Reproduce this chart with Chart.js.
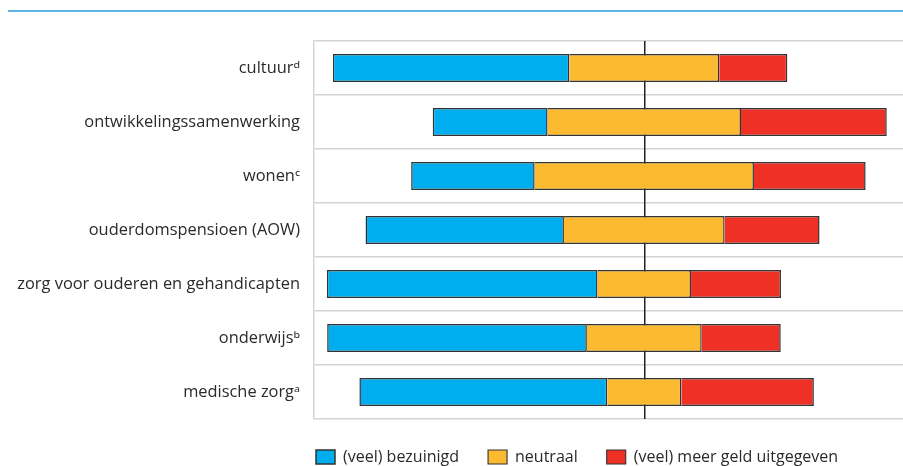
<!DOCTYPE html>
<html>
<head>
<meta charset="utf-8">
<script src="https://cdn.jsdelivr.net/npm/chart.js"></script>
<style>
html,body{margin:0;padding:0;background:#fff;overflow:hidden;}
#wrap{position:relative;width:903px;height:475px;}
#topline{position:absolute;left:8px;top:10px;width:895px;height:2px;background:#5db6e6;}
canvas{position:absolute;left:0;top:0;}
</style>
</head>
<body>
<div id="wrap"><div id="topline"></div><canvas id="c" width="903" height="475"></canvas></div>
<script>
const categories = [
  'cultuur\u1D48',
  'ontwikkelingssamenwerking',
  'wonen\u1D9C',
  'ouderdomspensioen (AOW)',
  'zorg voor ouderen en gehandicapten',
  'onderwijs\u1D47',
  'medische zorg\u1D43'
];
const seriesNames = ['(veel) bezuinigd', 'neutraal', '(veel) meer geld uitgegeven'];
const bezuinigd = [52.1, 25.3, 27.2, 43.7, 59.6, 57.2, 54.6];
const neutraal  = [33.0, 42.6, 48.3, 35.4, 20.6, 25.3, 16.3];
const meerGeld  = [15.0, 32.1, 24.6, 20.9, 19.8, 17.4, 29.2];
const colors = ['#00aeef', '#fbba30', '#ee3124'];
const edge = '#333333';

const blueData = bezuinigd.map((b, i) => [-(neutraal[i] / 2 + b), -neutraal[i] / 2]);
const neutralData = neutraal.map(n => [-n / 2, n / 2]);
const redData = meerGeld.map((r, i) => [neutraal[i] / 2, neutraal[i] / 2 + r]);

Chart.defaults.font.family = "'Open Sans', 'Noto Sans', sans-serif";
Chart.defaults.font.size = 16;
Chart.defaults.color = '#2a2a2a';

const common = {
  grouped: false,
  barPercentage: 0.52,
  categoryPercentage: 1,
  borderColor: edge,
  borderSkipped: false
};

const legendShift = {
  id: 'legendShift',
  afterLayout(chart) {
    if (chart.legend) { chart.legend.left = 287; }
  }
};

new Chart(document.getElementById('c'), {
  type: 'bar',
  data: {
    labels: categories,
    datasets: [
      Object.assign({ label: seriesNames[0], data: blueData, backgroundColor: colors[0],
        borderWidth: { top: 1.5, bottom: 1.5, left: 1.5, right: 1.5 } }, common),
      Object.assign({ label: seriesNames[1], data: neutralData, backgroundColor: colors[1],
        borderWidth: { top: 1.5, bottom: 1.5, left: 0, right: 1.5 } }, common),
      Object.assign({ label: seriesNames[2], data: redData, backgroundColor: colors[2],
        borderWidth: { top: 1.5, bottom: 1.5, left: 0, right: 1.5 } }, common)
    ]
  },
  plugins: [legendShift],
  options: {
    indexAxis: 'y',
    responsive: false,
    animation: false,
    devicePixelRatio: 1,
    layout: { padding: { left: 0, top: 41, right: 0, bottom: 0 } },
    scales: {
      y: {
        type: 'category',
        offset: true,
        grid: { offset: true, color: '#d4d4d4', lineWidth: 1.5, drawTicks: false },
        border: { display: true, color: '#d4d4d4', width: 1.5 },
        ticks: { padding: 14, color: '#2a2a2a', font: { size: 16.4 } },
        afterFit: s => { s.width = 314; }
      },
      x: {
        type: 'linear',
        min: -72.75,
        max: 56.98,
        z: 1,
        ticks: { display: false, stepSize: 10 },
        grid: {
          drawTicks: false,
          lineWidth: 1.5,
          color: c => (c.tick && c.tick.value === 0) ? '#222222' : 'rgba(0,0,0,0)'
        },
        border: { display: false },
        afterFit: s => { s.height = 1; }
      }
    },
    plugins: {
      tooltip: { enabled: false },
      legend: {
        position: 'bottom',
        align: 'start',
        onClick: null,
        labels: { boxWidth: 19, boxHeight: 14, padding: 29, color: '#2a2a2a', font: { size: 16 } }
      }
    }
  }
});
</script>
</body>
</html>
